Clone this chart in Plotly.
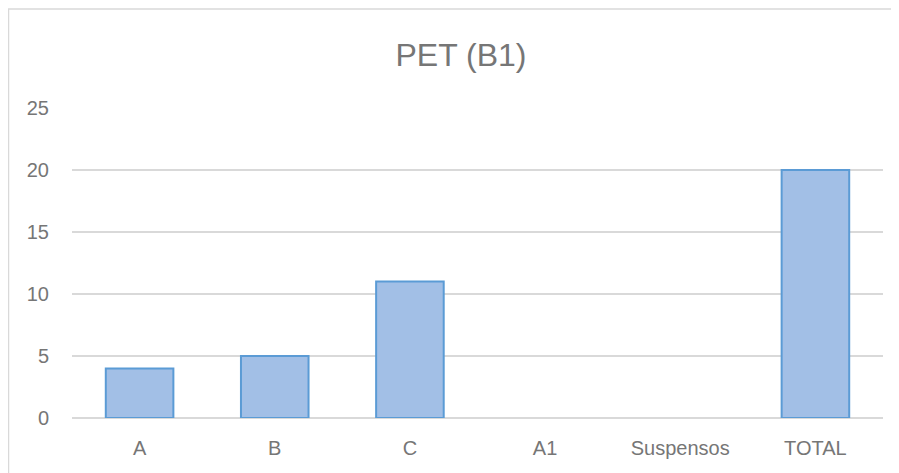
import plotly.graph_objects as go

categories = ["A", "B", "C", "A1", "Suspensos", "TOTAL"]
values = [4, 5, 11, 0, 0, 20]
y_ticks = [0, 5, 10, 15, 20, 25]

# page body adds an 8px offset; figure sized so it fits the window
W, H = 891, 465
L, R, T, B = 64, 16, 100, 55
pw, ph = W - L - R, H - T - B

# no outline on zero-height bars (as in the original)
outline = [2 if v > 0 else 0 for v in values]

fig = go.Figure()
fig.add_trace(go.Bar(
    x=categories, y=values,
    marker=dict(color="#a2bfe6", line=dict(color="#5b9bd5", width=outline)),
    width=0.5,
))

txt = "#767676"
fnt = "Liberation Sans, Arial, sans-serif"
fig.update_layout(
    width=W, height=H,
    paper_bgcolor="white", plot_bgcolor="white",
    margin=dict(l=L, r=R, t=T, b=B),
    showlegend=False,
    font=dict(family=fnt, color=txt, size=20),
    title=dict(text="PET (B1)", xref="container", x=453 / W, xanchor="center",
               yref="container", y=1 - 47 / H, yanchor="middle",
               font=dict(size=32, color=txt, family=fnt)),
    xaxis=dict(showgrid=False, showline=False, ticks="", ticklabelstandoff=16,
               tickfont=dict(size=20, color=txt)),
    yaxis=dict(range=[0, 25], tickvals=y_ticks, showgrid=True, gridcolor="#d9d9d9", gridwidth=1.5,
               zeroline=True, zerolinecolor="#d9d9d9", zerolinewidth=1.5,
               ticks="", ticklabelstandoff=22, tickfont=dict(size=20, color=txt)),
    shapes=[dict(type="rect", xref="paper", yref="paper",
                 x0=-(L - 0.5) / pw, x1=1.5, y0=-1.0, y1=(ph + T - 1) / ph,
                 line=dict(color="#d9d9d9", width=1.5), fillcolor="rgba(0,0,0,0)", layer="below")],
)
fig.write_html("out.html")
